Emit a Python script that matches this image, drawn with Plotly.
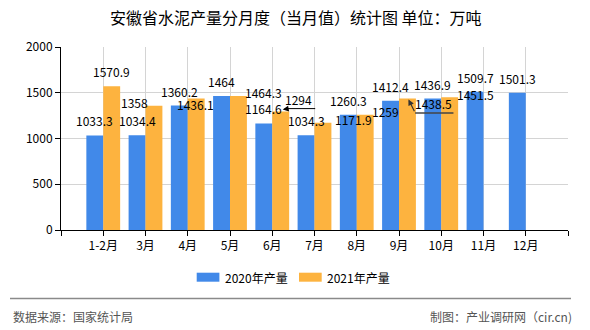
import plotly.graph_objects as go

# ---- data ----
months = ["1-2月", "3月", "4月", "5月", "6月", "7月", "8月", "9月", "10月", "11月", "12月"]
prod_2020 = [1033.3, 1034.4, 1360.2, 1464, 1164.6, 1034.3, 1260.3, 1412.4, 1436.9, 1509.7, 1501.3]
prod_2021 = [1570.9, 1358, 1436.1, 1464.3, 1294, 1171.9, 1259, 1438.5, 1451.5]
y_ticks = [0, 500, 1000, 1500, 2000]

# ---- style ----
W, H = 590, 330
ML, MR, MT, MB = 61, 22, 47, 100
BLUE = "#4189E9"
ORANGE = "#FDB33F"
FONT = "Noto Sans CJK SC"
GRID = "#d4d4d4"
HALF = 0.2  # half of a bar's width (bargap 0.2, two bars)

# label displacement (px, x right / y up) for 2021 labels, mimicking the reference's collision avoidance
shift_2021 = [(0, 0), (-19, -11.5), (-1, -20), (25, -11), (18, -2), (30.5, -11), (20, -10.7), (26, -19.5), (25.5, -12.3)]

def px2paper(px, py):
    return (px - ML) / (W - ML - MR), (H - MB - py) / (H - MT - MB)

n = len(months)
xs = list(range(n))
y21 = prod_2021 + [None] * (n - len(prod_2021))

fig = go.Figure()
fig.add_trace(go.Bar(x=xs, y=prod_2020, name="2020年产量", marker=dict(color=BLUE, line=dict(width=0))))
fig.add_trace(go.Bar(x=xs, y=y21, name="2021年产量", marker=dict(color=ORANGE, line=dict(width=0))))

ann = []
for i, v in enumerate(prod_2020):
    ann.append(dict(x=i - HALF, y=v, text=str(v), showarrow=False, yanchor="bottom",
                    yshift=4, font=dict(family=FONT, size=12, color="#000")))
for i, v in enumerate(prod_2021):
    dx, dy = shift_2021[i]
    ann.append(dict(x=i + HALF, y=v, text=str(v), showarrow=False, yanchor="bottom",
                    xshift=dx, yshift=4 + dy, font=dict(family=FONT, size=12, color="#000")))

# leader arrows for two displaced labels (6月, 9月 of 2021)
ann.append(dict(x=4 + HALF, y=prod_2021[4], text="", showarrow=True, arrowhead=2, arrowsize=1,
                arrowwidth=1.2, arrowcolor="#000", ax=6, ay=-1, xshift=2, yshift=2, standoff=0))
ann.append(dict(x=7 + HALF, y=prod_2021[7], text="", showarrow=True, arrowhead=2, arrowsize=1,
                arrowwidth=1.2, arrowcolor="#333", ax=6.7, ay=13.4, xshift=1, yshift=-1, standoff=0))

shapes = [
    dict(type="line", xref="x", yref="y", xsizemode="pixel", ysizemode="pixel",
         xanchor=4 + HALF, yanchor=prod_2021[4], x0=6.2, x1=34.5, y0=3, y1=3,
         line=dict(color="#000", width=1)),
    dict(type="line", xref="x", yref="y", xsizemode="pixel", ysizemode="pixel",
         xanchor=7 + HALF, yanchor=prod_2021[7], x0=7.7, x1=46, y0=-14.6, y1=-14.6,
         line=dict(color="#444", width=1.5)),
]

# custom legend
for (sx, tx, col, label) in [(196.7, 223, BLUE, "2020年产量"), (299, 325, ORANGE, "2021年产量")]:
    x0, y0 = px2paper(sx, 281.7)
    x1, y1 = px2paper(sx + 22.7, 272.7)
    shapes.append(dict(type="rect", xref="paper", yref="paper", x0=x0, x1=x1, y0=y0, y1=y1,
                       fillcolor=col, line=dict(width=0)))
    lx, ly = px2paper(tx, 277.5)
    ann.append(dict(xref="paper", yref="paper", x=lx, y=ly, text=label, showarrow=False,
                    xanchor="left", yanchor="middle", font=dict(family=FONT, size=12, color="#000")))

# footer line and texts
fx0, fy = px2paper(10, 298.5)
fx1, _ = px2paper(571, 298.5)
shapes.append(dict(type="line", xref="paper", yref="paper", x0=fx0, x1=fx1, y0=fy, y1=fy,
                   line=dict(color="#8a8a8a", width=1.5)))
lx, ly = px2paper(11, 316.5)
ann.append(dict(xref="paper", yref="paper", x=lx, y=ly, text="数据来源：国家统计局", showarrow=False,
                xanchor="left", yanchor="middle", font=dict(family=FONT, size=12, color="#555")))
rx, ry = px2paper(574, 316.5)
ann.append(dict(xref="paper", yref="paper", x=rx, y=ry, text="制图：产业调研网（cir.cn)", showarrow=False,
                xanchor="right", yanchor="middle", font=dict(family=FONT, size=12, color="#555")))

# title
tx, ty = px2paper(296, 17.5)
ann.append(dict(xref="paper", yref="paper", x=tx, y=ty, text="安徽省水泥产量分月度（当月值）统计图 单位：万吨",
                showarrow=False, xanchor="center", yanchor="middle",
                font=dict(family=FONT, size=16, color="#000")))

fig.update_layout(
    width=W, height=H,
    margin=dict(l=ML, r=MR, t=MT, b=MB, pad=0),
    paper_bgcolor="white", plot_bgcolor="white",
    barmode="group", bargap=0.2, bargroupgap=0,
    showlegend=False,
    annotations=ann, shapes=shapes,
    font=dict(family=FONT, size=12, color="#000"),
)
fig.update_xaxes(
    range=[-1, n], tickmode="array", tickvals=list(range(-1, n + 1)),
    ticktext=[""] + months + [""],
    showgrid=True, gridcolor=GRID, gridwidth=1,
    showline=True, linecolor="#000", linewidth=1,
    ticks="outside", ticklen=5, tickcolor="#000",
    tickfont=dict(family=FONT, size=12, color="#000"), zeroline=False,
)
fig.update_yaxes(
    range=[0, 2000], tickmode="array", tickvals=y_ticks,
    showgrid=True, gridcolor=GRID, gridwidth=1,
    showline=True, linecolor="#000", linewidth=1,
    ticks="outside", ticklen=5, tickcolor="#000",
    tickfont=dict(family=FONT, size=12, color="#000"), zeroline=False,
)

fig.write_html("out.html")
